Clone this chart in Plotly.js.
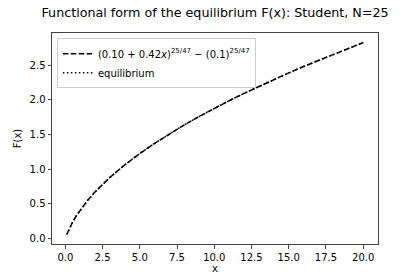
<!DOCTYPE html>
<html>
<head>
<meta charset="utf-8">
<script src="https://cdn.plot.ly/plotly-3.0.1.min.js"></script>
<style>html,body{margin:0;padding:0;background:#fff;}#chart{width:420px;height:280px;}</style>
</head>
<body>
<div id="chart"></div>
<script>
const xValues = [0.1, 0.25, 0.5, 0.75, 1, 1.5, 2, 2.5, 3, 4, 5, 6, 7, 8, 9, 10, 11, 12, 13, 14, 15, 16, 17, 18, 19, 20];
const fitValues = [0.060, 0.137, 0.243, 0.333, 0.412, 0.552, 0.674, 0.783, 0.884, 1.065, 1.227, 1.375, 1.513, 1.642, 1.763, 1.879, 1.989, 2.095, 2.197, 2.295, 2.390, 2.483, 2.572, 2.660, 2.745, 2.828];
const equilibriumValues = [0.060, 0.137, 0.243, 0.333, 0.412, 0.552, 0.674, 0.783, 0.884, 1.065, 1.227, 1.375, 1.513, 1.642, 1.763, 1.879, 1.989, 2.095, 2.197, 2.295, 2.390, 2.483, 2.572, 2.660, 2.745, 2.828];
const fitLabel = "(0.10 + 0.42<i>x</i>)<sup>25/47</sup> − (0.1)<sup>25/47</sup>";
const eqLabel = "equilibrium";
const titleText = "Functional form of the equilibrium F(x): Student, N=25";

const font = "DejaVu Sans, sans-serif";
const traces = [
  {x: xValues, y: fitValues, type: "scatter", mode: "lines", name: fitLabel,
   line: {color: "#000", width: 1.5, dash: "5.5px,2.4px"}},
  {x: xValues, y: equilibriumValues, type: "scatter", mode: "lines", name: eqLabel,
   line: {color: "#000", width: 1.5, dash: "1.5px,2.5px"}}
];
const axisCommon = {showline: true, mirror: true, linecolor: "#444", linewidth: 1, ticks: "outside",
  ticklen: 3.5, tickwidth: 1, tickcolor: "#444", showgrid: false, zeroline: false,
  tickfont: {family: font, size: 10, color: "#000"}, tickformat: ".1f"};
const layout = {
  width: 420, height: 280,
  margin: {l: 52, r: 42, t: 33, b: 36},
  paper_bgcolor: "#fff", plot_bgcolor: "#fff",
  font: {family: font, color: "#000"},
  title: {text: titleText, font: {family: font, size: 12.7, color: "#000"}, x: 0.512, xanchor: "center", y: 0.955, yanchor: "middle"},
  xaxis: Object.assign({}, axisCommon, {range: [-0.895, 20.995], dtick: 2.5, tick0: 0,
    title: {text: "x", font: {family: font, size: 10}, standoff: 3}}),
  yaxis: Object.assign({}, axisCommon, {range: [-0.078, 2.966], dtick: 0.5, tick0: 0,
    title: {text: "F(x)", font: {family: font, size: 10}, standoff: 6}}),
  showlegend: true,
  legend: {x: 0.015, y: 0.975, xanchor: "left", yanchor: "top", bgcolor: "rgba(255,255,255,0.8)",
    bordercolor: "#ccc", borderwidth: 1, font: {family: font, size: 10, color: "#000"},
    itemwidth: 30, tracegroupgap: 0}
};
Plotly.newPlot("chart", traces, layout, {displayModeBar: false, staticPlot: true});
</script>
</body>
</html>
